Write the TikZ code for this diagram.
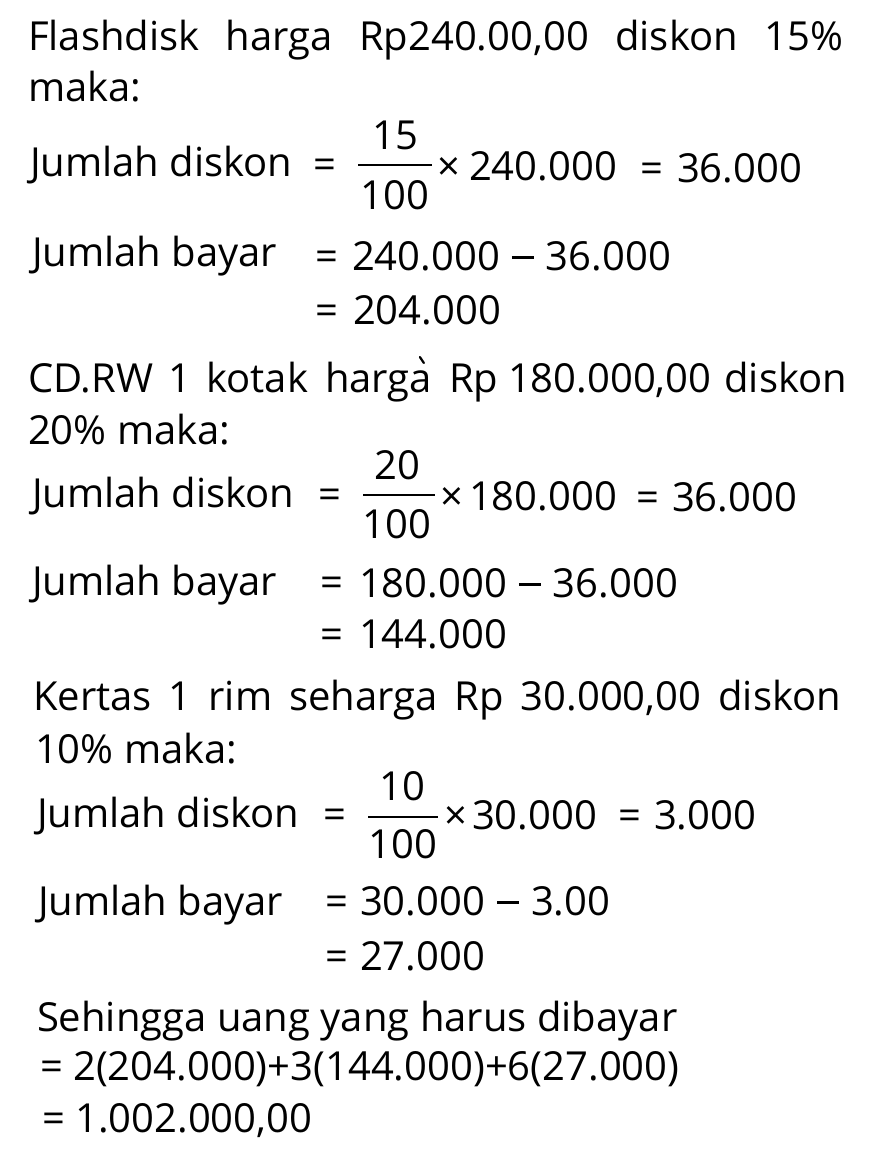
\documentclass[tikz,border=0pt]{standalone}
\usepackage{fontspec}
\setmainfont{Open Sans}
\usetikzlibrary{calc}
\newcommand\fsz{\fontsize{40}{48}\selectfont}
\newcommand\mns{\hspace{12pt}\rule[11pt]{22pt}{2.8pt}\hspace{12pt}}
\tikzset{
  txt/.style={anchor=base west, inner sep=0pt, outer sep=0pt, font=\fsz, text=black},
  frc/.style={anchor=base, inner sep=0pt, outer sep=0pt, font=\fsz, text=black},
  fbar/.style={line width=2.4pt, black}
}
\begin{document}
\begin{tikzpicture}[x=1pt,y=-1pt]
\useasboundingbox (0,0) rectangle (869,1167);
\fill[white] (0,0) rectangle (869,1167);
% ---------- Block 1 ----------
\node[txt] (l1) at (28,50) {\makebox[815pt][s]{Flashdisk harga Rp240.00,00 diskon 15\%}};
\node[txt] (l2) at (28,101) {maka:};
\node[txt] (d1) at (30,176) {Jumlah diskon};
\node[txt] (d1eq) at (313,178) {=};
\node[frc] (d1n) at (395,149) {15};
\draw[fbar] (358,165) -- (432,165);
\node[frc] (d1d) at (395,209) {100};
\node[txt] (d1x) at (437,180) {×};
\node[txt] (d1v) at (469,180) {240.000};
\node[txt] (d1e2) at (640,182) {=};
\node[txt] (d1r) at (677,182) {36.000};
\node[txt] (b1) at (32,266) {Jumlah bayar};
\node[txt] (b1eq) at (315,270) {=};
\node[txt] (b1r) at (352,270) {240.000\mns{}36.000};
\node[txt] (b1seq) at (315,324) {=};
\node[txt] (b1s) at (353,324) {204.000};
% ---------- Block 2 ----------
\node[txt] (l3a) at (28,392) {\makebox[280pt][s]{CD.RW 1 kotak}};
\node[txt] (l3b) at (325,392) {harga};
\draw[line width=2.2pt, black, line cap=round] ($(l3b.base east)+(-12,-35)$) -- ($(l3b.base east)+(-8,-29)$);
\node[txt] (l3c) at (449,392) {Rp};
\node[txt] (l3d) at (508,392) {180.000,00};
\node[txt, anchor=base east] (l3e) at (847,392) {diskon};
\node[txt] (l4) at (28,444) {20\% maka:};
\node[txt] (d2) at (32,507) {Jumlah diskon};
\node[txt] (d2eq) at (318,508) {=};
\node[frc] (d2n) at (397,479) {20};
\draw[fbar] (363,495) -- (435,495);
\node[frc] (d2d) at (397,538) {100};
\node[txt] (d2x) at (440,510) {×};
\node[txt] (d2v) at (469,510) {180.000};
\node[txt] (d2e2) at (636,511) {=};
\node[txt] (d2r) at (672,511) {36.000};
\node[txt] (b2) at (32,595) {Jumlah bayar};
\node[txt] (b2eq) at (320,596) {=};
\node[txt] (b2r) at (359,597) {180.000\mns{}36.000};
\node[txt] (b2seq) at (320,648) {=};
\node[txt] (b2s) at (359,648) {144.000};
% ---------- Block 3 ----------
\node[txt] (l5) at (33,710) {\makebox[808pt][s]{Kertas 1 rim seharga Rp 30.000,00 diskon}};
\node[txt] (l6) at (35,763) {10\% maka:};
\node[txt] (d3) at (37,827) {Jumlah diskon};
\node[txt] (d3eq) at (323,828) {=};
\node[frc] (d3n) at (402,800) {10};
\draw[fbar] (368,817) -- (438,817);
\node[frc] (d3d) at (403,858) {100};
\node[txt] (d3x) at (444,829) {×};
\node[txt] (d3v) at (472,829) {30.000};
\node[txt] (d3e2) at (618,829) {=};
\node[txt] (d3r) at (654,829) {3.000};
\node[txt] (b3) at (38,915) {Jumlah bayar};
\node[txt] (b3eq) at (325,915) {=};
\node[txt] (b3r) at (360,915) {30.000\mns{}3.00};
\node[txt] (b3seq) at (325,970) {=};
\node[txt] (b3s) at (360,970) {27.000};
% ---------- Total ----------
\node[txt] (s1) at (37,1031) {Sehingga uang yang harus dibayar};
\node[txt] (s2) at (40,1080) {= 2(204.000)+3(144.000)+6(27.000)};
\node[txt] (s3) at (42,1132) {= 1.002.000,00};
\end{tikzpicture}
\end{document}
